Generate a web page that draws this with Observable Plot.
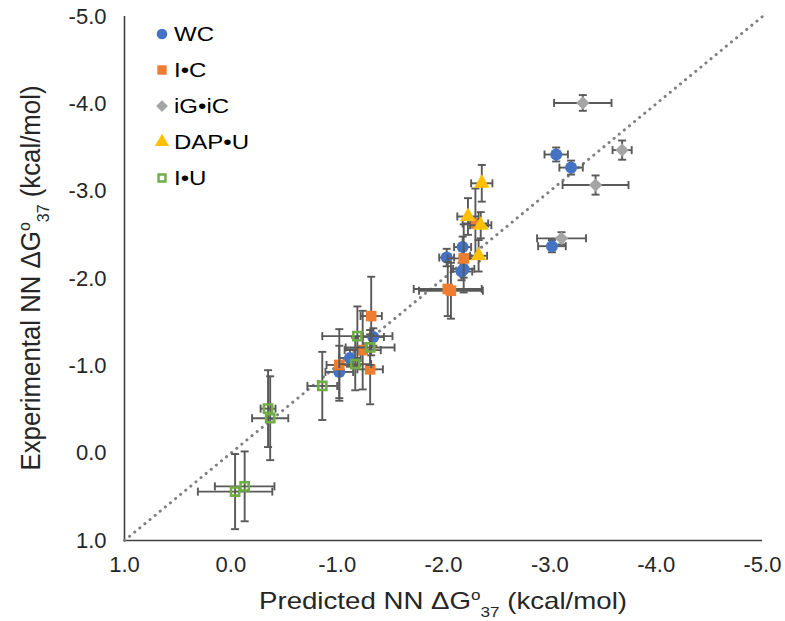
<!DOCTYPE html>
<html><head><meta charset="utf-8">
<script src="https://cdn.jsdelivr.net/npm/d3@7"></script>
<script src="https://cdn.jsdelivr.net/npm/@observablehq/plot@0.6"></script>
<style>
body{margin:0;background:#fff;font-family:"Liberation Sans",Arial,sans-serif;}
#wrap{position:relative;width:785px;height:621px;}
#legend{position:absolute;left:153px;top:16px;}
.row{display:flex;align-items:center;height:36px;font-size:20px;color:#000;}
.row svg{margin-right:3px;}
.row span{display:inline-block;transform:scaleX(1.2);transform-origin:left center;}
</style></head>
<body><div id="wrap"><div id="legend"></div></div>
<script>
const seriesNames = ["WC", "I•C", "iG•iC", "DAP•U", "I•U"];
const seriesColors = ["#4472C4", "#ED7D31", "#A5A5A5", "#FFC000", "#70AD47"];
const seriesSymbols = ["circle", "square", "diamond2", "triangle", "square"];
const seriesHollow = [false, false, false, false, true];

// WC
const wcPred    = [-3.06, -3.20, -3.02, -2.03, -2.18, -2.17, -2.19, -1.34, -1.12, -1.02];
const wcExp     = [-3.42, -3.27, -2.37, -2.24, -2.36, -2.08, -2.11, -1.33, -1.09, -0.93];
const wcPredErr = [0.11, 0.11, 0.13, 0.07, 0.08, 0.10, 0.10, 0.10, 0.10, 0.13];
const wcExpErr  = [0.08, 0.08, 0.07, 0.10, 0.12, 0.10, 0.10, 0.10, 0.10, 0.30];
// I•C
const icPred    = [-2.30, -2.19, -2.04, -2.07, -1.32, -1.24, -1.02, -1.31];
const icExp     = [-2.63, -2.23, -1.88, -1.86, -1.57, -1.18, -1.01, -0.96];
const icPredErr = [0.12, 0.15, 0.32, 0.30, 0.10, 0.17, 0.12, 0.12];
const icExpErr  = [0.40, 0.39, 0.31, 0.32, 0.45, 0.45, 0.41, 0.40];
// iG•iC
const igPred    = [-3.31, -3.68, -3.43, -3.11];
const igExp     = [-4.01, -3.47, -3.07, -2.46];
const igPredErr = [0.27, 0.09, 0.31, 0.23];
const igExpErr  = [0.09, 0.11, 0.11, 0.07];
// DAP•U
const dapPred    = [-2.36, -2.23, -2.35, -2.33];
const dapExp     = [-3.09, -2.71, -2.61, -2.26];
const dapPredErr = [0.10, 0.10, 0.10, 0.08];
const dapExpErr  = [0.21, 0.21, 0.15, 0.18];
// I•U
const iuPred    = [-1.19, -1.31, -1.17, -0.86, -0.35, -0.37, -0.04, -0.13];
const iuExp     = [-1.34, -1.21, -1.02, -0.77, -0.51, -0.40, 0.44, 0.38];
const iuPredErr = [0.33, 0.23, 0.15, 0.14, 0.07, 0.17, 0.35, 0.28];
const iuExpErr  = [0.34, 0.20, 0.30, 0.39, 0.44, 0.48, 0.43, 0.40];

const xTicks = [1.0, 0.0, -1.0, -2.0, -3.0, -4.0, -5.0];
const yTicks = [1.0, 0.0, -1.0, -2.0, -3.0, -4.0, -5.0];
const identityLine = [1.0, -5.0];

const seriesData = [
  [wcPred, wcExp, wcPredErr, wcExpErr],
  [icPred, icExp, icPredErr, icExpErr],
  [igPred, igExp, igPredErr, igExpErr],
  [dapPred, dapExp, dapPredErr, dapExpErr],
  [iuPred, iuExp, iuPredErr, iuExpErr]
].map(([p, e, pe, ee], k) => p.map((v, i) => ({series: seriesNames[k], x: v, y: e[i], ex: pe[i], ey: ee[i]})));

const vCap = {draw(ctx, size) { const r = Math.sqrt(size / Math.PI); ctx.moveTo(0, -r); ctx.lineTo(0, r); }};
const hCap = {draw(ctx, size) { const r = Math.sqrt(size / Math.PI); ctx.moveTo(-r, 0); ctx.lineTo(r, 0); }};
const errColor = "#595959", errW = 1.9, capR = 4;

const marks = [
  Plot.ruleX([1.0], {stroke: "#404040", strokeWidth: 1.6}),
  Plot.ruleY([1.0], {stroke: "#404040", strokeWidth: 1.6}),
  Plot.line(identityLine, {x: d => d, y: d => d, stroke: "#7F7F7F", strokeWidth: 3, strokeDasharray: "0.1 6.5", strokeLinecap: "round"}),
  Plot.axisX({ticks: xTicks, tickSize: 0, tickPadding: 16, tickFormat: d => d.toFixed(1), label: null}),
  Plot.axisY({ticks: yTicks, tickSize: 0, tickPadding: 18, tickFormat: d => d.toFixed(1), label: null})
];
seriesData.forEach((data, k) => {
  marks.push(
    Plot.ruleY(data, {y: "y", x1: d => d.x - d.ex, x2: d => d.x + d.ex, stroke: errColor, strokeWidth: errW}),
    Plot.ruleX(data, {x: "x", y1: d => d.y - d.ey, y2: d => d.y + d.ey, stroke: errColor, strokeWidth: errW}),
    Plot.dot(data, {x: d => d.x - d.ex, y: "y", symbol: vCap, r: capR, fill: "none", stroke: errColor, strokeWidth: errW}),
    Plot.dot(data, {x: d => d.x + d.ex, y: "y", symbol: vCap, r: capR, fill: "none", stroke: errColor, strokeWidth: errW}),
    Plot.dot(data, {x: "x", y: d => d.y - d.ey, symbol: hCap, r: capR, fill: "none", stroke: errColor, strokeWidth: errW}),
    Plot.dot(data, {x: "x", y: d => d.y + d.ey, symbol: hCap, r: capR, fill: "none", stroke: errColor, strokeWidth: errW}),
    seriesHollow[k]
      ? Plot.dot(data, {x: "x", y: "y", symbol: seriesSymbols[k], r: 4.6, fill: "none", stroke: seriesColors[k], strokeWidth: 2.6})
      : Plot.dot(data, {x: "x", y: "y", symbol: seriesSymbols[k], r: seriesSymbols[k] === "triangle" ? 5.8 : 6, fill: seriesColors[k], stroke: "none"})
  );
});

const plot = Plot.plot({
  width: 785, height: 621,
  marginLeft: 124, marginRight: 23, marginTop: 16, marginBottom: 81,
  x: {domain: [1, -5]},
  y: {domain: [1, -5]},
  style: {fontFamily: '"Liberation Sans", Arial, sans-serif', fontSize: "22px", color: "#262626", background: "#fff"},
  marks
});
document.getElementById("wrap").prepend(plot);

// axis titles with superscript / subscript
const svg = d3.select(plot);
const xs = plot.scale("x"), ys = plot.scale("y");
function title(sel, len, fs) {
  sel.attr("font-size", fs).attr("fill", "#262626").attr("text-anchor", "middle")
    .attr("font-family", '"Liberation Sans", Arial, sans-serif')
    .attr("textLength", len).attr("lengthAdjust", "spacingAndGlyphs");
  sel.append("tspan").text(sel.datum().pre + " ΔG");
  sel.append("tspan").attr("font-size", fs * 0.62).attr("dy", -fs * 0.38).text("o");
  sel.append("tspan").attr("font-size", fs * 0.62).attr("dy", fs * 0.7).text("37");
  sel.append("tspan").attr("dy", -fs * 0.32).text(" (kcal/mol)");
}
const xMid = (xs.apply(1) + xs.apply(-5)) / 2;
const yMid = (ys.apply(1) + ys.apply(-5)) / 2;
svg.append("text").datum({pre: "Predicted NN"}).attr("x", xMid).attr("y", 609).call(title, 368, 24);
svg.append("text").datum({pre: "Experimental NN"}).attr("transform", `translate(40,${yMid}) rotate(-90)`).call(title, 385, 27);

// legend
const legend = d3.select("#legend");
seriesNames.forEach((name, k) => {
  const row = legend.append("div").attr("class", "row");
  const s = row.append("svg").attr("width", 18).attr("height", 18);
  const sym = {circle: d3.symbolCircle, square: d3.symbolSquare, diamond2: d3.symbolDiamond2, triangle: d3.symbolTriangle}[seriesSymbols[k]];
  const size = seriesHollow[k] ? 48 : 88;
  s.append("path").attr("transform", "translate(9,9)").attr("d", d3.symbol(sym, size)())
    .attr("fill", seriesHollow[k] ? "none" : seriesColors[k])
    .attr("stroke", seriesHollow[k] ? seriesColors[k] : "none").attr("stroke-width", 2.4);
  row.append("span").text(name);
});
</script>
</body></html>
